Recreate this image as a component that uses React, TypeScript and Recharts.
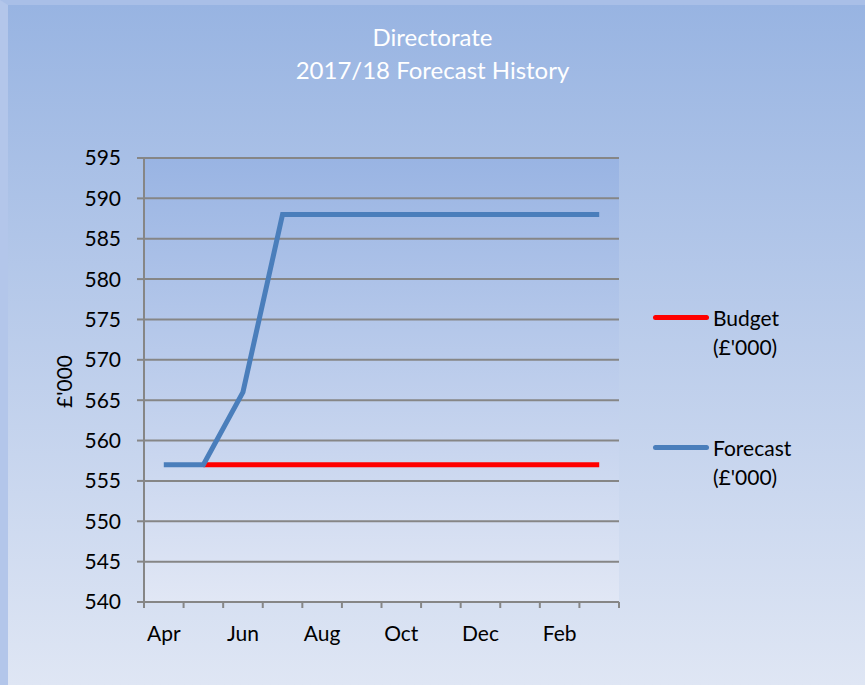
import { LineChart, Line, XAxis, YAxis, CartesianGrid, Legend } from "recharts";

const months = ["Apr", "May", "Jun", "Jul", "Aug", "Sep", "Oct", "Nov", "Dec", "Jan", "Feb", "Mar"];
const budget = [null, 557, 557, 557, 557, 557, 557, 557, 557, 557, 557, 557];
const forecast = [557, 557, 566, 588, 588, 588, 588, 588, 588, 588, 588, 588];
const yTicks = [540, 545, 550, 555, 560, 565, 570, 575, 580, 585, 590, 595];

const data = months.map((m, i) => ({
  month: m,
  budget: budget[i],
  forecast: forecast[i],
}));

const FONT = "Lato, 'Open Sans', sans-serif";
const AXIS = "#868686";

// tick marks sit between months, labels on every other month
function MonthTick({ x, y, payload, index, visibleTicksCount, width }: any) {
  const off = payload.offset ?? width / visibleTicksCount / 2;
  return (
    <g>
      <line x1={x - off} x2={x - off} y1={y} y2={y + 6} stroke={AXIS} strokeWidth={2} />
      {index === visibleTicksCount - 1 && (
        <line x1={x + off} x2={x + off} y1={y} y2={y + 6} stroke={AXIS} strokeWidth={2} />
      )}
      {index % 2 === 0 && (
        <text x={x} y={y + 39} textAnchor="middle" fill="#000" fontSize={21} fontFamily={FONT}>
          {payload.value}
        </text>
      )}
    </g>
  );
}

function LegendBox({ payload }: any) {
  return (
    <div style={{ fontFamily: FONT, fontSize: 21, color: "#000", lineHeight: "29px", textAlign: "left" }}>
      {(payload || []).map((p: any, i: number) => (
        <div key={p.value} style={{ display: "flex", alignItems: "flex-start", marginBottom: i === 0 ? 72 : 0 }}>
          <div
            style={{
              width: 56,
              height: 5,
              borderRadius: 3,
              background: p.color,
              marginTop: 12,
              marginRight: 4,
            }}
          />
          <div>
            {p.value}
            <br />
            (£'000)
          </div>
        </div>
      ))}
    </div>
  );
}

export default function App() {
  return (
    <div
      style={{
        position: "absolute",
        left: 0,
        top: 0,
        width: 865,
        height: 685,
        boxSizing: "border-box",
        borderLeft: "8px solid #b3c6ea",
        borderTop: "5px solid #a9bfe7",
        background: "linear-gradient(to bottom, #98b4e2 0%, #dfe6f4 100%)",
        fontFamily: FONT,
      }}
    >
      <div
        style={{
          position: "absolute",
          left: -8,
          top: -5,
          width: 865,
          textAlign: "center",
          color: "#fff",
          fontSize: 24,
          lineHeight: "33px",
          paddingTop: 20,
        }}
      >
        Directorate
        <br />
        2017/18 Forecast History
      </div>
      <div style={{ position: "absolute", left: -8, top: -5 }}>
        <LineChart
          width={865}
          height={685}
          data={data}
          margin={{ top: 158, right: 246, bottom: 43, left: 84 }}
        >
          <defs>
            <linearGradient id="plotFill" x1="0" y1="0" x2="0" y2="1">
              <stop offset="0%" stopColor="#99b4e3" />
              <stop offset="100%" stopColor="#e1e7f5" />
            </linearGradient>
          </defs>
          <CartesianGrid
            vertical={false}
            stroke={AXIS}
            strokeWidth={2}
            fill="url(#plotFill)"
            fillOpacity={1}
          />
          <XAxis
            dataKey="month"
            scale="band"
            interval={0}
            stroke={AXIS}
            strokeWidth={2}
            tickLine={false}
            tickSize={0}
            tickMargin={0}
            height={40}
            tick={<MonthTick />}
          />
          <YAxis
            domain={[540, 595]}
            ticks={yTicks}
            interval={0}
            width={60}
            stroke={AXIS}
            strokeWidth={2}
            tickSize={7}
            tickMargin={16}
            tick={{ fill: "#000", fontSize: 21, fontFamily: FONT }}
            label={{
              value: "£'000",
              angle: -90,
              position: "insideLeft",
              dx: -24,
              dy: 28,
              style: { fill: "#000", fontSize: 21, fontFamily: FONT },
            }}
          />
          <Legend
            layout="horizontal"
            align="center"
            verticalAlign="middle"
            content={<LegendBox />}
            wrapperStyle={{ left: 653, top: 303, width: 180 }}
          />
          <Line
            dataKey="budget"
            name="Budget"
            stroke="#ff0000"
            strokeWidth={5}
            dot={false}
            isAnimationActive={false}
          />
          <Line
            dataKey="forecast"
            name="Forecast"
            stroke="#4a7ebb"
            strokeWidth={5}
            dot={false}
            isAnimationActive={false}
          />
        </LineChart>
      </div>
    </div>
  );
}
